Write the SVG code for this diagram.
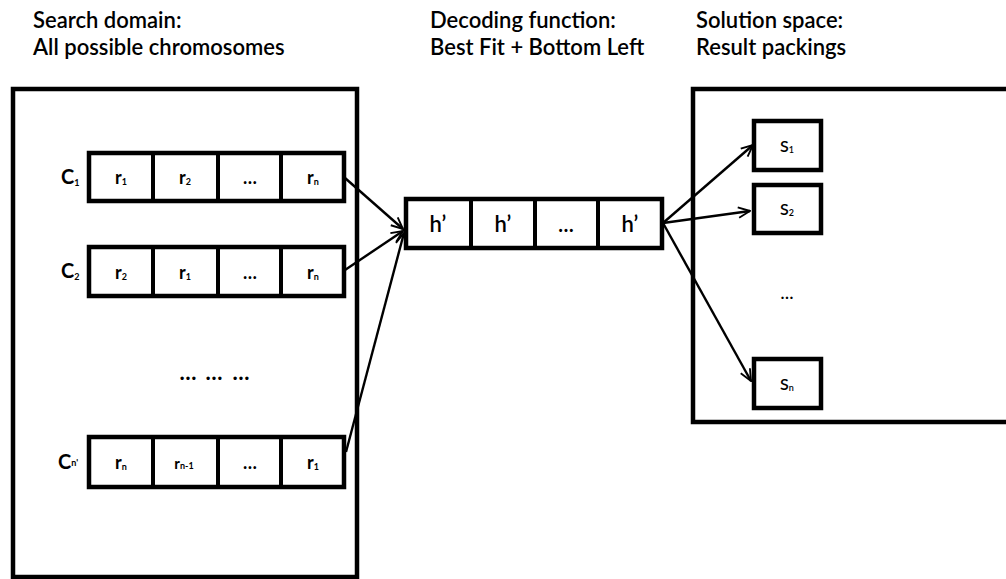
<svg xmlns="http://www.w3.org/2000/svg" width="1006" height="579" viewBox="0 0 1006 579">
  <style>
    .t { font-family: Lato, "Open Sans", "Liberation Sans", sans-serif; fill: #000; }
    .title { font-size: 22px; font-weight: 600; }
    .cell { font-size: 18px; font-weight: bold; text-anchor: middle; }
    .lbl { font-size: 20px; font-weight: bold; }
    .sub { font-size: 9px; }
    .frame { fill: #fff; stroke: #000; stroke-width: 4.5; }
    .box { fill: #fff; stroke: #000; stroke-width: 4.5; }
    .div { stroke: #000; stroke-width: 4; }
    .conn { stroke: #000; stroke-width: 2.4; fill: none; marker-end: url(#vhead); }
  </style>
  <defs>
    <marker id="vhead" viewBox="0 0 12 12" refX="11" refY="6" markerWidth="14" markerHeight="14" markerUnits="userSpaceOnUse" orient="auto">
      <path d="M1,1.5 L11,6 L1,10.5" fill="none" stroke="#000" stroke-width="1.6"/>
    </marker>
  </defs>
  <rect width="1006" height="579" fill="#fff"/>

  <!-- column headings -->
  <g id="headings">
    <text class="t title" x="33" y="28">Search domain:</text>
    <text class="t title" x="33" y="55">All possible chromosomes</text>
    <text class="t title" x="430" y="28">Decoding function:</text>
    <text class="t title" x="430" y="55">Best Fit + Bottom Left</text>
    <text class="t title" x="696" y="28">Solution space:</text>
    <text class="t title" x="696" y="55">Result packings</text>
  </g>

  <!-- search domain frame -->
  <g id="search-domain">
    <rect class="frame" x="13" y="89" width="344" height="488"/>
  </g>

  <!-- solution space frame -->
  <g id="solution-space">
    <rect class="frame" x="693" y="89" width="330" height="333"/>
  </g>

  <!-- chromosome 1 -->
  <g id="chromosome-1">
    <text class="t lbl" x="61" y="184">C<tspan class="sub" dy="2">1</tspan></text>
    <rect class="box" x="89" y="153" width="255" height="48"/>
    <line class="div" x1="153" y1="153" x2="153" y2="201"/>
    <line class="div" x1="218" y1="153" x2="218" y2="201"/>
    <line class="div" x1="281" y1="153" x2="281" y2="201"/>
    <text class="t cell" x="121" y="184">r<tspan class="sub" dy="1">1</tspan></text>
    <text class="t cell" x="185" y="184">r<tspan class="sub" dy="1">2</tspan></text>
    <text class="t cell" x="250" y="184">…</text>
    <text class="t cell" x="313" y="184">r<tspan class="sub" dy="1">n</tspan></text>
  </g>

  <!-- chromosome 2 -->
  <g id="chromosome-2">
    <text class="t lbl" x="61" y="278">C<tspan class="sub" dy="2">2</tspan></text>
    <rect class="box" x="89" y="247" width="255" height="49"/>
    <line class="div" x1="153" y1="247" x2="153" y2="296"/>
    <line class="div" x1="218" y1="247" x2="218" y2="296"/>
    <line class="div" x1="281" y1="247" x2="281" y2="296"/>
    <text class="t cell" x="121" y="279">r<tspan class="sub" dy="1">2</tspan></text>
    <text class="t cell" x="185" y="279">r<tspan class="sub" dy="1">1</tspan></text>
    <text class="t cell" x="250" y="279">…</text>
    <text class="t cell" x="313" y="279">r<tspan class="sub" dy="1">n</tspan></text>
  </g>

  <!-- elided chromosomes -->
  <g id="ellipsis-rows">
    <text class="t cell" x="188" y="380" style="font-size:22px">…</text>
    <text class="t cell" x="214" y="380" style="font-size:22px">…</text>
    <text class="t cell" x="241" y="380" style="font-size:22px">…</text>
  </g>

  <!-- chromosome n' -->
  <g id="chromosome-n">
    <text class="t lbl" x="58" y="469">C<tspan class="sub" dy="-3">n'</tspan></text>
    <rect class="box" x="89" y="437" width="255" height="50"/>
    <line class="div" x1="153" y1="437" x2="153" y2="487"/>
    <line class="div" x1="218" y1="437" x2="218" y2="487"/>
    <line class="div" x1="281" y1="437" x2="281" y2="487"/>
    <text class="t cell" x="121" y="469">r<tspan class="sub" dy="1">n</tspan></text>
    <text class="t cell" x="184" y="469" style="font-size:15px">r<tspan class="sub" dy="0">n-1</tspan></text>
    <text class="t cell" x="250" y="469">…</text>
    <text class="t cell" x="313" y="469">r<tspan class="sub" dy="1">1</tspan></text>
  </g>

  <!-- decoder -->
  <g id="decoder">
    <rect class="box" x="406" y="199" width="256" height="49"/>
    <line class="div" x1="471" y1="199" x2="471" y2="248"/>
    <line class="div" x1="535" y1="199" x2="535" y2="248"/>
    <line class="div" x1="598" y1="199" x2="598" y2="248"/>
    <text class="t cell" x="438" y="232" style="font-size:22px;font-weight:600">h’</text>
    <text class="t cell" x="503" y="232" style="font-size:22px;font-weight:600">h’</text>
    <text class="t cell" x="566" y="232" style="font-size:20px">…</text>
    <text class="t cell" x="630" y="232" style="font-size:22px;font-weight:600">h’</text>
  </g>

  <!-- solutions -->
  <g id="solution-1">
    <rect class="box" x="754" y="121" width="67" height="49"/>
    <text class="t cell" x="787" y="152" style="font-size:16px;font-weight:600">S<tspan class="sub" dy="1">1</tspan></text>
  </g>
  <g id="solution-2">
    <rect class="box" x="754" y="185" width="67" height="48"/>
    <text class="t cell" x="787" y="215" style="font-size:16px;font-weight:600">S<tspan class="sub" dy="1">2</tspan></text>
  </g>
  <g id="solution-ellipsis">
    <text class="t cell" x="787" y="299" style="font-size:17px;font-weight:600">…</text>
  </g>
  <g id="solution-n">
    <rect class="box" x="754" y="359" width="67" height="49"/>
    <text class="t cell" x="787" y="390" style="font-size:16px;font-weight:600">S<tspan class="sub" dy="1">n</tspan></text>
  </g>

  <!-- connectors -->
  <g id="connectors">
    <line class="conn" x1="345" y1="178" x2="403" y2="229"/>
    <line class="conn" x1="345" y1="270" x2="403" y2="231"/>
    <line class="conn" x1="346" y1="452" x2="404" y2="233"/>
    <line class="conn" x1="663" y1="223" x2="753" y2="145"/>
    <line class="conn" x1="663" y1="223" x2="750" y2="211"/>
    <line class="conn" x1="663" y1="223" x2="751" y2="381"/>
  </g>
</svg>
